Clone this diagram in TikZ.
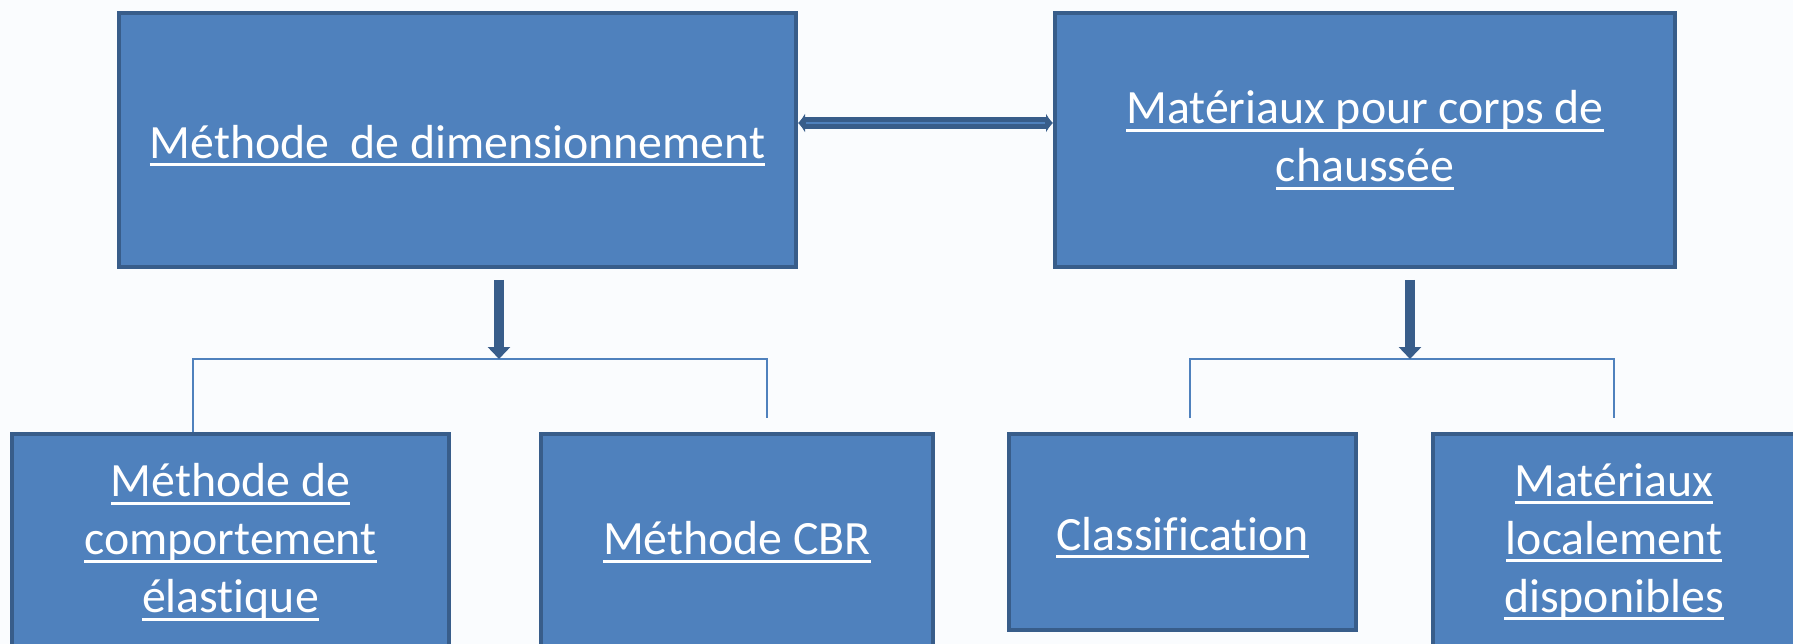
\documentclass[tikz,border=0pt]{standalone}
\usepackage{fontspec}
\setmainfont{Carlito}[RawFeature={-liga;-clig}]
\usetikzlibrary{arrows.meta}
\definecolor{boxfill}{HTML}{4F81BD}
\definecolor{boxline}{HTML}{385D8A}
\definecolor{bg}{HTML}{FAFCFE}
\newcommand{\myul}[1]{\setbox0=\hbox{#1}\rlap{\rule[-8pt]{\wd0}{3pt}}\box0}
\tikzset{
  box/.style={draw=boxline, fill=boxfill, line width=4pt, rectangle, inner sep=0pt,
    text=white, align=center, font=\fontsize{47.8}{58}\selectfont},
  bracket/.style={draw=boxfill, line width=2pt},
  downarrow/.style={draw=boxline, line width=10pt, -{Triangle[length=12pt,width=22pt]}},
}
\begin{document}
\begin{tikzpicture}[x=1pt,y=-1pt]
\fill[bg] (0,0) rectangle (1793,644);
\useasboundingbox (0,0) rectangle (1793,644);
% top boxes
\node[box, minimum width=677pt, minimum height=254pt, text height=45pt] (dim) at (457.5,140) {\myul{Méthode\ \ de dimensionnement}};
\node[box, minimum width=620pt, minimum height=254pt] (mat) at (1365,140) {\myul{Matériaux pour corps de}\\\myul{chaussée}};
% bottom boxes
\node[box, minimum width=437pt, minimum height=216pt] (ela) at (230.5,542) {\myul{Méthode de}\\\myul{comportement}\\\myul{élastique}};
\node[box, minimum width=392pt, minimum height=216pt] (cbr) at (737,542) {\myul{Méthode CBR}};
\node[box, minimum width=347pt, minimum height=196pt, text height=44pt] (cla) at (1182.5,532) {\myul{Classification}};
\node[box, minimum width=362pt, minimum height=216pt] (loc) at (1614,542) {\myul{Matériaux}\\\myul{localement}\\\myul{disponibles}};
% double arrow between top boxes
\draw[draw=boxline, line width=12pt, {Latex[length=7pt,width=20pt]}-{Latex[length=7pt,width=20pt]}] (dim.east) ++(0,-17) coordinate (h1) -- (h1 -| mat.west);
\draw[draw=boxfill, line width=2.5pt] ([xshift=8pt]h1) -- ([xshift=-8pt]h1 -| mat.west);
% left bracket
\coordinate (lj) at (499,359);
\coordinate (lL) at (193,359);
\coordinate (lR) at (767,359);
\coordinate (lRe) at (767,418);
\draw[bracket] (lL |- ela.north) -- (lL) -- (lR) -- (lRe);
\coordinate (la) at (499,280);
\draw[downarrow] (la) -- (lj);
% right bracket
\coordinate (rj) at (1410,359);
\coordinate (rL) at (1190,359);
\coordinate (rR) at (1614,359);
\coordinate (rLe) at (1190,418);
\coordinate (rRe) at (1614,418);
\draw[bracket] (rLe) -- (rL) -- (rR) -- (rRe);
\coordinate (ra) at (1410,280);
\draw[downarrow] (ra) -- (rj);
\end{tikzpicture}
\end{document}
